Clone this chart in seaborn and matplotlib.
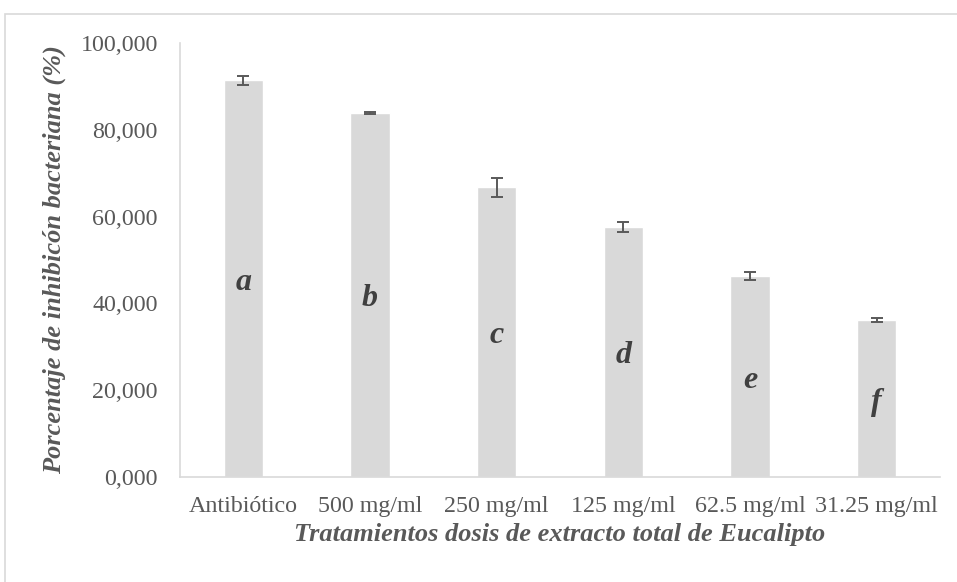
import numpy as np
import pandas as pd
import matplotlib
matplotlib.use("Agg")
import matplotlib.pyplot as plt
import seaborn as sns
from matplotlib.patches import Rectangle
from matplotlib.ticker import FuncFormatter

# Data
tratamientos = ["Antibiótico", "500 mg/ml", "250 mg/ml", "125 mg/ml", "62.5 mg/ml", "31.25 mg/ml"]
inhibicion = [91.4, 83.9, 66.8, 57.6, 46.3, 36.1]
error = [1.1, 0.3, 2.2, 1.1, 0.9, 0.5]
letras = ["a", "b", "c", "d", "e", "f"]

df = pd.DataFrame({"trat": tratamientos, "inh": inhibicion, "err": error, "letra": letras})

sns.set_style("white")
plt.rcParams['font.family'] = ['Liberation Serif', 'DejaVu Serif']

fig = plt.figure(figsize=(9.57, 5.82), dpi=100)
ax = fig.add_axes([180 / 957, 1 - 477 / 582, 760 / 957, 434 / 582])

sns.barplot(data=df, x="trat", y="inh", color="#d9d9d9", saturation=1,
            width=0.31, ax=ax, errorbar=None)
ax.errorbar(np.arange(len(df)), df["inh"], yerr=df["err"], fmt="none",
            ecolor="#595959", elinewidth=1.4, capsize=4.3, capthick=1.4)

# letters centred in the bars
for i, row in df.iterrows():
    ax.text(i, row["inh"] / 2, row["letra"], ha="center", va="center_baseline",
            fontsize=23, fontweight="bold", fontstyle="italic", color="#404040")

ax.set_ylim(0, 100)
ax.set_xlim(-0.5, len(df) - 0.5)
ax.set_yticks(np.arange(0, 101, 20))
ax.yaxis.set_major_formatter(FuncFormatter(lambda v, p: f"{v:,.3f}".replace(".", ",")))
ax.tick_params(axis="both", length=0, labelsize=17.3, labelcolor="#595959")
ax.tick_params(axis="x", pad=14)
ax.tick_params(axis="y", pad=16)

for s in ["top", "right"]:
    ax.spines[s].set_visible(False)
for s in ["left", "bottom"]:
    ax.spines[s].set_color("#d9d9d9")
    ax.spines[s].set_linewidth(1.2)

ax.set_xlabel("Tratamientos dosis de extracto total de Eucalipto", fontsize=19,
              fontweight="bold", fontstyle="italic", color="#595959", labelpad=4)
ax.set_ylabel("Porcentaje de inhibicón bacteriana (%)", fontsize=19,
              fontweight="bold", fontstyle="italic", color="#595959", labelpad=10)

# outer chart border
fig.patches.append(Rectangle((5 / 957, -0.1), 1.1, 1 - 14 / 582 + 0.1,
                             transform=fig.transFigure, fill=False,
                             edgecolor="#d9d9d9", linewidth=1.2))

fig.savefig("out.png", dpi=100)
